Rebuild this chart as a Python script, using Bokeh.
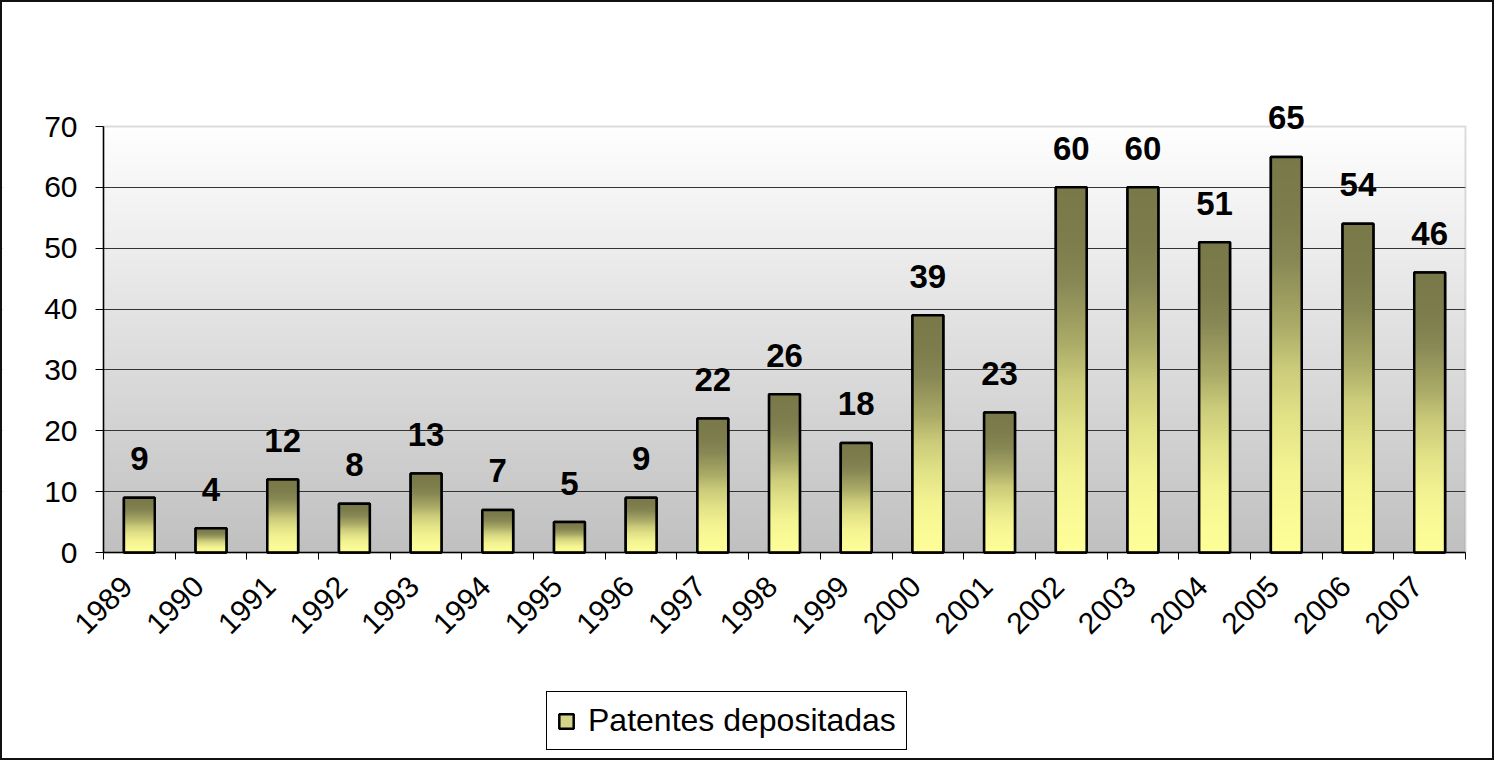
import math
import numpy as np
from bokeh.plotting import figure
from bokeh.models import (Range1d, FixedTicker, ColumnDataSource, Legend, LegendItem,
                          BoxAnnotation)
from bokeh.core.properties import value
from bokeh.embed import file_html
from bokeh.resources import INLINE

# ---- data ----
years = ["1989", "1990", "1991", "1992", "1993", "1994", "1995", "1996", "1997", "1998",
         "1999", "2000", "2001", "2002", "2003", "2004", "2005", "2006", "2007"]
patents = [9, 4, 12, 8, 13, 7, 5, 9, 22, 26, 18, 39, 23, 60, 60, 51, 65, 54, 46]
y_ticks = [0, 10, 20, 30, 40, 50, 60, 70]
series_name = "Patentes depositadas"

n = len(years)
centers = list(range(n))
BAR_W = 0.43
FONT = "Liberation Sans"
Y_MAX = y_ticks[-1]
LABEL_SHIFT = 0.17   # rotated year labels sit slightly left of the bar centre

# ---- layout (canvas pixels) ----
W, H = 1494, 760
PA_LEFT, PA_RIGHT, PA_TOP, PA_BOTTOM = 101, 1463, 124, 550   # plot area edges
px_x = (PA_RIGHT - PA_LEFT) / n
px_y = (PA_BOTTOM - PA_TOP) / Y_MAX
x0 = -0.5 - PA_LEFT / px_x
x1 = n - 0.5 + (W - PA_RIGHT) / px_x
y0 = -(H - PA_BOTTOM) / px_y
y1 = Y_MAX + PA_TOP / px_y


def gradient(stops, rows=256):
    """stops: list of (t, (r,g,b)) with t=0 bottom, t=1 top"""
    img = np.zeros((rows, 1, 4), dtype=np.uint8)
    ts = [s[0] for s in stops]
    for k in range(rows):
        t = k / (rows - 1)
        for c in range(3):
            img[k, 0, c] = int(round(np.interp(t, ts, [s[1][c] for s in stops])))
        img[k, 0, 3] = 255
    return img.view(np.uint32).reshape(rows, 1)


bg_img = gradient([(0.0, (192, 192, 192)), (1.0, (254, 254, 254))])
bar_img = gradient([
    (0.0, (255, 255, 153)),
    (0.21, (243, 243, 146)),
    (0.34, (226, 226, 135)),
    (0.47, (202, 202, 122)),
    (0.57, (172, 172, 104)),
    (0.74, (136, 136, 85)),
    (0.86, (124, 124, 76)),
    (1.0, (120, 120, 72)),
])

p = figure(width=W, height=H,
           x_range=Range1d(x0, x1), y_range=Range1d(y0, y1),
           output_backend="svg", toolbar_location=None, tools="",
           min_border=0, min_border_left=0, min_border_right=0,
           min_border_top=0, min_border_bottom=0)
p.styles = {"border": "2px solid #111111"}
p.background_fill_color = "white"
p.border_fill_color = "white"
p.outline_line_color = None

# plot-area gradient
p.image_rgba(image=[bg_img], x=-0.5, y=0, dw=n, dh=Y_MAX, level="image")

# grid
p.xgrid.visible = False
p.ygrid.ticker = FixedTicker(ticks=[t for t in y_ticks if 0 < t < Y_MAX])
p.ygrid.grid_line_color = "#333333"
p.ygrid.grid_line_width = 1
# keep grid lines inside the plot area
p.add_layout(BoxAnnotation(right=-0.5, fill_color="white", fill_alpha=1,
                           line_color=None, level="underlay"))
p.add_layout(BoxAnnotation(left=n - 0.5, fill_color="white", fill_alpha=1,
                           line_color=None, level="underlay"))
# plot-area border (gray top/right)
p.add_layout(BoxAnnotation(left=-0.5, right=n - 0.5, bottom=0, top=Y_MAX,
                           fill_color=None, line_color="#8c8c8c", line_width=2,
                           level="underlay"))

src = ColumnDataSource(dict(
    x=centers, top=patents,
    ix=[c - BAR_W / 2 for c in centers], iy=[0] * n,
    dw=[BAR_W] * n, dh=patents, image=[bar_img] * n,
    lbl=[str(v) for v in patents],
))
r_fill = p.vbar(x="x", top="top", width=BAR_W, source=src,
                fill_color="#d4d48a", line_color="black", line_width=2.5)
p.image_rgba(image="image", x="ix", y="iy", dw="dw", dh="dh", source=src)
p.vbar(x="x", top="top", width=BAR_W, source=src,
       fill_color=None, line_color="black", line_width=2.5)

# value labels
p.text(x="x", y="top", text="lbl", source=src,
       text_font=value(FONT), text_font_style="bold", text_font_size="33px",
       text_align="center", text_baseline="alphabetic", y_offset=-39,
       text_color="black")

# x axis (drawn at y = 0 inside the frame)
label_pos = [c - LABEL_SHIFT for c in centers]
xa = p.xaxis[0]
xa.fixed_location = 0
xa.bounds = (-0.5, n - 0.5)
xa.ticker = FixedTicker(ticks=label_pos, minor_ticks=[c - 0.5 for c in range(n + 1)])
xa.major_label_overrides = {lp: y for lp, y in zip(label_pos, years)}
xa.major_tick_line_color = None
xa.major_tick_out = 0
xa.major_tick_in = 0
xa.minor_tick_line_color = "black"
xa.minor_tick_out = 7
xa.minor_tick_in = 0
xa.major_label_orientation = math.pi / 4
xa.major_label_standoff = 22
xa.major_label_text_font = FONT
xa.major_label_text_font_size = "30px"
xa.major_label_text_color = "black"
xa.axis_line_color = "black"
xa.axis_line_width = 1.5

# y axis (drawn at x = left edge of plot area)
ya = p.yaxis[0]
ya.fixed_location = -0.5
ya.bounds = (0, Y_MAX)
ya.ticker = FixedTicker(ticks=y_ticks, minor_ticks=[])
ya.major_tick_out = 8
ya.major_tick_in = 0
ya.major_tick_line_color = "black"
ya.minor_tick_line_color = None
ya.major_label_standoff = 18
ya.major_label_text_font = FONT
ya.major_label_text_font_size = "30px"
ya.major_label_text_color = "black"
ya.axis_line_color = "black"
ya.axis_line_width = 1.5

legend = Legend(items=[LegendItem(label=series_name, renderers=[r_fill])],
                location=(544, 12), orientation="horizontal",
                border_line_color="black", border_line_alpha=1, border_line_width=1.5,
                padding=10, margin=0, label_height=36,
                label_text_font=FONT, label_text_font_size="32px",
                label_text_color="black",
                glyph_width=18, glyph_height=18, label_standoff=13,
                background_fill_color="white", background_fill_alpha=1)
p.add_layout(legend, "center")

open("out.html", "w").write(file_html(p, INLINE))
